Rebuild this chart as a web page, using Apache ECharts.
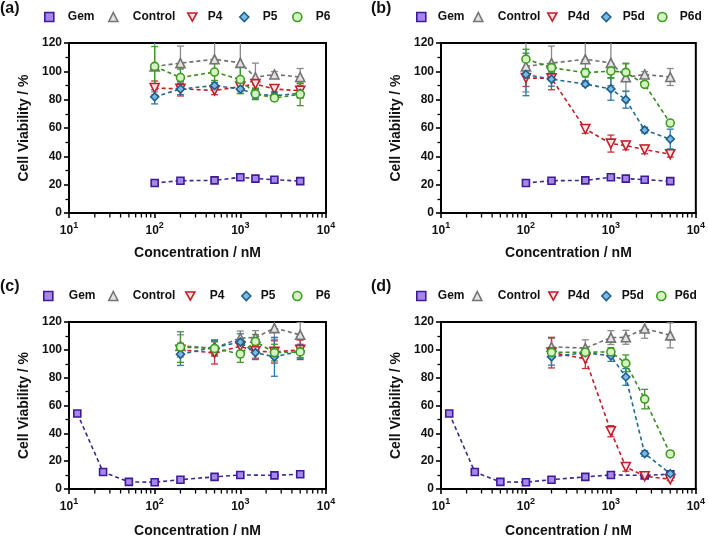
<!DOCTYPE html>
<html><head><meta charset="utf-8">
<script src="https://cdn.jsdelivr.net/npm/echarts@6/dist/echarts.min.js"></script>
<style>html,body{margin:0;padding:0;background:#fff}#c{width:708px;height:539px}</style>
</head><body><div id="c"></div>
<script>
// ---------- data ----------
const concAB = [100, 200, 500, 1000, 1500, 2500, 5000];
const concGemCD = [12.5, 25, 50, 100, 200, 500, 1000, 2500, 5000];
const concCD = [200, 500, 1000, 1500, 2500, 5000];
const minorTickConc = [20,30,40,50,60,70,80,90,200,300,400,500,600,700,800,900,2000,3000,4000,5000,6000,7000,8000,9000];
const xTickExponents = [1, 2, 3, 4];
const yTicks = [0, 20, 40, 60, 80, 100, 120];

// panel (a)
const gemA = [21.2, 22.8, 23.0, 25.2, 24.3, 23.5, 22.5];
const gemAErr = [1, 1, 1, 1, 1, 1, 1];
const ctrlA = [103.5, 105.8, 108.5, 106.0, 95.8, 97.8, 96.0];
const ctrlAErr = [18, 12, 15, 16, 10, 2, 6];
const p4A = [88.2, 87.6, 86.5, 89.2, 91.0, 87.5, 86.3];
const p4AErr = [5, 5, 3, 3, 3, 2, 5];
const p5A = [82.0, 87.5, 90.0, 87.5, 84.0, 82.8, 84.5];
const p5AErr = [5, 4, 2, 3, 3, 2, 3];
const p6A = [103.5, 95.6, 99.5, 94.2, 84.0, 81.2, 83.8];
const p6AErr = [14, 6, 6, 10, 4, 2, 8];

// panel (b)
const gemB = [21.2, 22.8, 23.0, 25.2, 24.3, 23.5, 22.5];
const gemBErr = [1, 1, 1, 1, 1, 1, 1];
const ctrlB = [103.5, 105.8, 108.5, 106.0, 95.8, 97.8, 96.0];
const ctrlBErr = [18, 12, 15, 16, 10, 2, 6];
const p4dB = [95.3, 95.0, 59.3, 49.0, 47.6, 44.8, 41.5];
const p4dBErr = [6, 8, 3, 6, 3, 3, 2];
const p5dB = [97.8, 94.5, 91.0, 87.6, 80.0, 58.5, 52.2];
const p5dBErr = [15, 5, 1.5, 8, 6, 2, 7];
const p6dB = [108.6, 102.6, 99.0, 100.2, 99.3, 90.8, 63.5];
const p6dBErr = [7, 3, 3, 5, 6, 1, 2];

// panel (c)
const gemC = [54.3, 12.2, 5.1, 4.9, 6.7, 8.7, 10.1, 9.8, 10.6];
const gemCErr = [2, 1, 0.5, 0.5, 0.5, 0.5, 0.5, 0.5, 0.5];
const ctrlC = [102.8, 101.3, 108.5, 108.8, 115.6, 110.8];
const ctrlCErr = [8, 6, 5, 5, 8, 9];
const p4C = [100.0, 97.8, 102.5, 99.0, 98.5, 100.0];
const p4CErr = [4, 8, 4, 5, 8, 7];
const p5C = [96.8, 101.8, 105.5, 98.0, 95.0, 99.0];
const p5CErr = [8, 5, 6, 5, 14, 5];
const p6C = [102.0, 101.0, 97.0, 106.0, 98.0, 98.5];
const p6CErr = [11, 5, 6, 5, 6, 4];

// panel (d)
const gemD = [54.3, 12.2, 5.1, 4.9, 6.7, 8.7, 10.1, 9.8, 10.6];
const gemDErr = [2, 1, 0.5, 0.5, 0.5, 0.5, 0.5, 0.5, 0.5];
const ctrlD = [102.2, 101.2, 108.8, 109.0, 115.3, 110.4];
const ctrlDErr = [6, 6, 5, 5, 7, 9];
const p4dD = [98.0, 93.6, 41.5, 15.8, 9.2, 7.0];
const p4dDErr = [11, 7, 4, 3, 1, 1];
const p5dD = [95.0, 98.0, 95.7, 80.5, 25.5, 11.0];
const p5dDErr = [6, 3, 4, 6, 2, 1];
const p6dD = [98.2, 98.3, 98.5, 90.3, 64.6, 25.2];
const p6dDErr = [3, 2, 3, 6, 7, 2];

// ---------- styles ----------
const FONT = 'Liberation Sans, Arial, sans-serif';
const sty = {
  Gem:     {symbol:'rect', size:7, rotate:0, fill:'#a886ea', border:'#3c1c96', line:'#3a2a8e', err:'#5a3fb0'},
  Control: {symbol:'triangle', size:9, rotate:0, fill:'#e2e2e2', border:'#737373', line:'#6e6e6e', err:'#8a8a8a'},
  P4:      {symbol:'triangle', size:9, rotate:180, fill:'#fde6e6', border:'#c41d2b', line:'#c41d2b', err:'#c8323c'},
  P5:      {symbol:'diamond', size:8, rotate:0, fill:'#7cb9e4', border:'#1d5f8c', line:'#1f6a93', err:'#2d7ba3'},
  P6:      {symbol:'circle', size:8, rotate:0, fill:'#d6f3c4', border:'#3a9d1e', line:'#3a8c1e', err:'#3f9a28'}
};
const downTri = 'path://M0,0 L10,0 L5,9 Z';

const panels = [
  {label:'(a)', lx:0, ly:1, grid:{left:69, top:43, width:257, height:170}, legTop:11, xGap:33,
   series:[['Gem','Gem',concAB,gemA,gemAErr],['Control','Control',concAB,ctrlA,ctrlAErr],['P4','P4',concAB,p4A,p4AErr],['P5','P5',concAB,p5A,p5AErr],['P6','P6',concAB,p6A,p6AErr]],
   leg:[[44,9],[108,10],[187,6],[239,9],[292,9]]},
  {label:'(b)', lx:371, ly:1, grid:{left:441, top:43, width:256, height:170}, legTop:11, xGap:33,
   series:[['Gem','Gem',concAB,gemB,gemBErr],['Control','Control',concAB,ctrlB,ctrlBErr],['P4d','P4',concAB,p4dB,p4dBErr],['P5d','P5',concAB,p5dB,p5dBErr],['P6d','P6',concAB,p6dB,p6dBErr]],
   leg:[[416,7],[473,10],[547,6],[601,7],[657,8]]},
  {label:'(c)', lx:0, ly:279, grid:{left:69, top:322, width:257, height:170}, legTop:290, xGap:35,
   series:[['Gem','Gem',concGemCD,gemC,gemCErr],['Control','Control',concCD,ctrlC,ctrlCErr],['P4','P4',concCD,p4C,p4CErr],['P5','P5',concCD,p5C,p5CErr],['P6','P6',concCD,p6C,p6CErr]],
   leg:[[43,11],[108,10],[185,10],[241,5],[292,9]]},
  {label:'(d)', lx:371, ly:279, grid:{left:441, top:322, width:256, height:170}, legTop:290, xGap:35,
   series:[['Gem','Gem',concGemCD,gemD,gemDErr],['Control','Control',concCD,ctrlD,ctrlDErr],['P4d','P4',concCD,p4dD,p4dDErr],['P5d','P5',concCD,p5dD,p5dDErr],['P6d','P6',concCD,p6dD,p6dDErr]],
   leg:[[416,7],[472,11],[548,5],[601,6],[656,4]]}
];

const option = {animation:false, backgroundColor:'#fff', title:[], grid:[], xAxis:[], yAxis:[], legend:[], series:[]};

panels.forEach((p, gi) => {
  option.title.push({text:p.label, left:p.lx, top:p.ly, padding:0,
    textStyle:{fontSize:16, fontWeight:'bold', color:'#111', fontFamily:FONT}});
  option.grid.push(Object.assign({show:true, borderColor:'#000', borderWidth:2, backgroundColor:'transparent'}, p.grid));
  option.xAxis.push({
    type:'log', logBase:10, gridIndex:gi, min:Math.pow(10, xTickExponents[0]), max:Math.pow(10, xTickExponents[xTickExponents.length-1]),
    name:'Concentration / nM', nameLocation:'middle', nameGap:p.xGap,
    nameTextStyle:{fontSize:14, fontWeight:'bold', color:'#111', fontFamily:FONT},
    axisLine:{show:true, onZero:false, lineStyle:{color:'#000', width:2}},
    axisTick:{show:true, length:5, lineStyle:{color:'#000', width:1.6}},
    minorTick:{show:false}, splitLine:{show:false},
    axisLabel:{margin:8, color:'#111',
      formatter:v => '{b|10}{s|' + Math.round(Math.log10(v)) + '}',
      rich:{b:{fontSize:12, fontWeight:'bold', color:'#111', fontFamily:FONT, verticalAlign:'bottom', lineHeight:16},
            s:{fontSize:9, fontWeight:'bold', color:'#111', fontFamily:FONT, verticalAlign:'top', lineHeight:10}}}
  });
  option.yAxis.push({
    type:'value', gridIndex:gi, min:yTicks[0], max:yTicks[yTicks.length-1], interval:yTicks[1]-yTicks[0],
    name:'Cell Viability / %', nameLocation:'middle', nameGap:38,
    nameTextStyle:{fontSize:14, fontWeight:'bold', color:'#111', fontFamily:FONT},
    axisLine:{show:true, onZero:false, lineStyle:{color:'#000', width:2}},
    axisTick:{show:true, length:5, lineStyle:{color:'#000', width:1.6}},
    minorTick:{show:true, splitNumber:2, length:3.5, lineStyle:{color:'#000', width:1.3}},
    splitLine:{show:false},
    axisLabel:{margin:7, fontSize:12, fontWeight:'bold', color:'#111', fontFamily:FONT}
  });
  // minor log ticks
  option.series.push({
    type:'custom', xAxisIndex:gi, yAxisIndex:gi, clip:false, silent:true, z:10,
    data:minorTickConc.map(c => [c, 0]),
    encode:{x:0, y:1},
    renderItem:(params, api) => {
      const pt = api.coord([api.value(0), api.value(1)]);
      return {type:'line', shape:{x1:pt[0], y1:pt[1], x2:pt[0], y2:pt[1]+4.5}, style:{stroke:'#000', lineWidth:1.3}};
    }
  });
  p.series.forEach((s, si) => {
    const [name, key, xs, ys, es] = s;
    const st = sty[key];
    // error bars
    option.series.push({
      type:'custom', name:name, xAxisIndex:gi, yAxisIndex:gi, clip:true, silent:true, z:2,
      data:xs.map((x, i) => [x, ys[i]-es[i], ys[i]+es[i]]),
      encode:{x:0, y:[1,2]},
      renderItem:(params, api) => {
        const x = api.value(0);
        const lo = api.coord([x, api.value(1)]);
        const hi = api.coord([x, api.value(2)]);
        const w = 3.5;
        const stl = {stroke:st.err, lineWidth:1.3, fill:null};
        return {type:'group', children:[
          {type:'line', shape:{x1:lo[0], y1:lo[1], x2:hi[0], y2:hi[1]}, style:stl},
          {type:'line', shape:{x1:lo[0]-w, y1:lo[1], x2:lo[0]+w, y2:lo[1]}, style:stl},
          {type:'line', shape:{x1:hi[0]-w, y1:hi[1], x2:hi[0]+w, y2:hi[1]}, style:stl}
        ]};
      }
    });
    option.series.push({
      type:'line', name:name, xAxisIndex:gi, yAxisIndex:gi, z:4 + si,
      data:xs.map((x, i) => [x, ys[i]]),
      symbol:st.symbol, symbolSize:st.size, symbolRotate:st.rotate, showSymbol:true,
      lineStyle:{color:st.line, width:1.6, type:[4,3]},
      itemStyle:{color:st.fill, borderColor:st.border, borderWidth:1.6},
      emphasis:{disabled:true}
    });
    const lg = p.leg[si];
    option.legend.push({
      left:lg[0], top:p.legTop, padding:0, itemWidth:9, itemHeight:9, selectedMode:false,
      data:[{name:name, icon: st.rotate === 180 ? downTri : st.symbol,
             itemStyle:{color:st.fill, borderColor:st.border, borderWidth:1.6}}],
      textStyle:{fontSize:12, fontWeight:'bold', color:'#111', fontFamily:FONT, padding:[0,0,0,lg[1]]}
    });
  });
});

const chart = echarts.init(document.getElementById('c'), null, {renderer:'canvas'});
chart.setOption(option);
</script></body></html>
